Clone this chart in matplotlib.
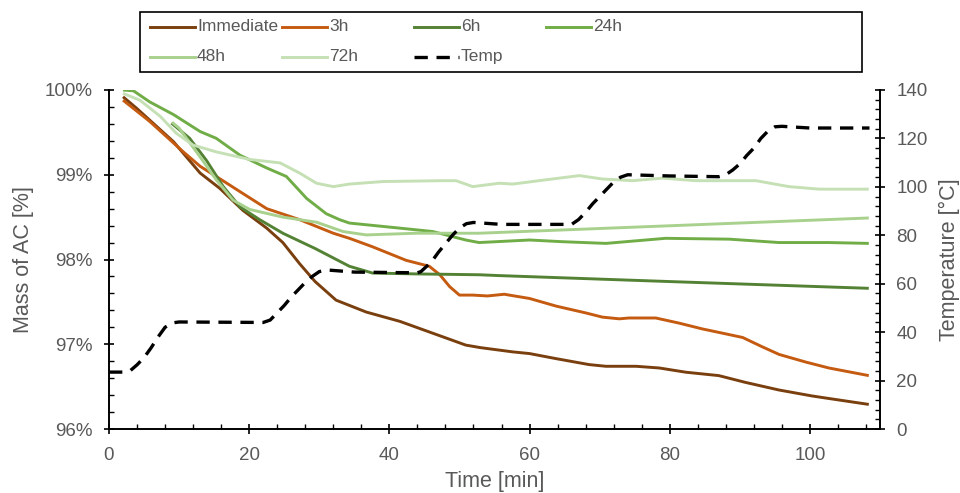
import matplotlib
matplotlib.use("Agg")
import matplotlib.pyplot as plt
from matplotlib.lines import Line2D
from matplotlib.patches import Rectangle
from matplotlib.ticker import MultipleLocator, FuncFormatter

plt.rcParams['font.family'] = ['Liberation Sans', 'DejaVu Sans']

# ---------------- data ----------------
imm_t = [2, 4, 6, 9.2, 13, 15.8, 19.1, 22.5, 24.8, 27.2, 29.4, 32.4, 36.7, 41.5, 46.2, 50.9, 53, 57.6, 60,
         63.8, 68.5, 70.9, 75.2, 78.5, 82.3, 87, 90.8, 95.6, 100.3, 102.7, 108.4]
imm_m = [99.92, 99.78, 99.63, 99.39, 99.02, 98.84, 98.58, 98.37, 98.2, 97.95, 97.74, 97.52, 97.38, 97.27,
         97.13, 96.99, 96.96, 96.91, 96.89, 96.83, 96.76, 96.74, 96.74, 96.72, 96.67, 96.63, 96.55, 96.46,
         96.39, 96.36, 96.29]

h3_t = [2, 5.8, 8.2, 10.6, 13, 15.3, 18.7, 22.5, 27.2, 32, 34.3, 37.6, 42.4, 45.7, 47.2, 48.6, 50, 51.9, 54,
        56.4, 60, 63.8, 68, 70.4, 72.8, 74.2, 78, 81.3, 84.7, 87, 90.4, 93.2, 95.6, 99.4, 102.7, 108.4]
h3_m = [99.88, 99.63, 99.45, 99.27, 99.1, 98.98, 98.8, 98.6, 98.47, 98.31, 98.25, 98.15, 97.99, 97.92, 97.82,
        97.68, 97.58, 97.58, 97.57, 97.59, 97.54, 97.45, 97.37, 97.32, 97.30, 97.31, 97.31, 97.25, 97.18,
        97.14, 97.08, 96.97, 96.88, 96.79, 96.72, 96.63]

h6_t = [8.9, 11.5, 13.9, 16.3, 18.7, 21.5, 24.8, 29.4, 34.3, 37.6, 43.8, 52.8, 55.7, 79.9, 108.4]
h6_m = [99.61, 99.43, 99.17, 98.86, 98.62, 98.47, 98.31, 98.13, 97.92, 97.84, 97.83, 97.82, 97.81, 97.74, 97.66]

h24_t = [2, 3.5, 5.8, 9.2, 13, 15.3, 18.7, 22.5, 25.3, 28.2, 31, 32.9, 34.3, 36.7, 41.5, 46.2, 50.9, 52.8,
         60, 64.7, 70.9, 79.4, 88.5, 95.6, 102.7, 108.4]
h24_m = [100.0, 99.99, 99.86, 99.71, 99.51, 99.43, 99.23, 99.08, 98.98, 98.72, 98.54, 98.47, 98.43, 98.41,
         98.37, 98.33, 98.23, 98.2, 98.23, 98.21, 98.19, 98.25, 98.24, 98.2, 98.2, 98.19]

h48_t = [9, 10, 13, 15.3, 17.7, 20.1, 24.8, 29.6, 33.4, 36.7, 43.8, 52.8, 108.4]
h48_m = [99.62, 99.55, 99.21, 98.94, 98.7, 98.59, 98.5, 98.44, 98.33, 98.29, 98.31, 98.31, 98.49]

h72_t = [2, 4.4, 7.3, 9.6, 12, 15.3, 20.1, 24.4, 27.2, 29.6, 32, 34.3, 39.1, 47.6, 49.5, 51.9, 55.7, 57.6,
         62.3, 67.1, 70.4, 74.7, 79, 83.7, 92.3, 97, 101.3, 108.4]
h72_m = [99.96, 99.88, 99.69, 99.49, 99.35, 99.27, 99.18, 99.14, 99.02, 98.9, 98.86, 98.89, 98.92, 98.93,
         98.93, 98.86, 98.9, 98.89, 98.94, 98.99, 98.95, 98.93, 98.96, 98.93, 98.93, 98.86, 98.83, 98.83]

temp_t = [0, 2, 3, 4, 5, 6, 7, 8, 9, 10, 22, 23, 24, 25, 26, 27, 28, 29, 30, 31, 35, 44, 44.5, 46, 47, 48, 49,
          50, 51, 52, 56, 66, 67, 68, 69, 70, 71, 72, 73, 74, 80, 87, 88, 89, 90, 91, 92, 93, 94, 95, 96,
          100, 108.5]
temp_v = [23.5, 23.5, 24, 26.5, 29.5, 33.5, 38, 42, 43.8, 44.2, 44, 45, 48, 51, 54.5, 57.5, 60.5, 63, 65,
          65.7, 64.8, 64.5, 65, 69, 73, 76.5, 80, 83, 84.8, 85.3, 84.5, 84.5, 86.5, 89.5, 93, 96, 99, 102,
          104, 105, 104.5, 104.2, 105, 107, 109.5, 113, 116, 120, 123, 124.8, 125, 124.3, 124.3]

series = [
    ("Immediate", imm_t, imm_m, "#7A3F0E"),
    ("3h", h3_t, h3_m, "#C55A11"),
    ("6h", h6_t, h6_m, "#548235"),
    ("24h", h24_t, h24_m, "#70AD47"),
    ("48h", h48_t, h48_m, "#A9D18E"),
    ("72h", h72_t, h72_m, "#C5E0B4"),
]

GRAY = "#595959"
W, H = 960, 493
fig = plt.figure(figsize=(W / 100, H / 100), dpi=100)

def fx(px):
    return px / W

def fy(py):
    return 1 - py / H

ax = fig.add_axes([fx(109), fy(429), fx(880) - fx(109), fy(90) - fy(429)])
ax2 = ax.twinx()

LW = 2.1
handles = {}
for name, t, m, c in series:
    ln, = ax.plot(t, m, color=c, lw=LW, solid_capstyle='butt', solid_joinstyle='round')
    handles[name] = ln
tl, = ax2.plot(temp_t, temp_v, color='black', lw=2.4, dashes=(4, 2.6))
handles["Temp"] = tl

ax.set_xlim(0, 110)
ax.set_ylim(96, 100)
ax2.set_ylim(0, 140)

ax.xaxis.set_major_locator(MultipleLocator(20))
ax.xaxis.set_minor_locator(MultipleLocator(4))
ax.yaxis.set_major_locator(MultipleLocator(1))
ax.yaxis.set_minor_locator(MultipleLocator(0.2))
ax2.yaxis.set_major_locator(MultipleLocator(20))
ax2.yaxis.set_minor_locator(MultipleLocator(4))
ax.yaxis.set_major_formatter(FuncFormatter(lambda v, p: f"{v:.0f}%"))

for a in (ax, ax2):
    for s in a.spines.values():
        s.set_linewidth(1.2)
        s.set_color('black')
    a.spines['top'].set_visible(False)
    a.tick_params(which='major', direction='inout', length=7.5, width=1.2, colors='black',
                  labelcolor=GRAY, labelsize=13.5)
    a.tick_params(which='minor', direction='in', length=3.5, width=1.0, colors='black')
ax.tick_params(axis='x', which='major', pad=9)
ax.tick_params(axis='y', which='major', pad=8)
ax2.tick_params(axis='y', which='major', pad=8)
ax.patch.set_visible(False)

ax.set_xlabel("Time [min]", color=GRAY, fontsize=15.5, labelpad=5)
ax.set_ylabel("Mass of AC [%]", color=GRAY, fontsize=15.5, labelpad=8)
ax2.set_ylabel("Temperature [°C]", color=GRAY, fontsize=15.5, labelpad=8)

# ---------------- legend (Excel-like fixed grid) ----------------
fig.add_artist(Rectangle((fx(140), fy(72)), fx(862) - fx(140), fy(12) - fy(72),
                         transform=fig.transFigure, fill=False, edgecolor='black', lw=1.2))
col_x = [150, 282, 414, 546]
row_y = [26.5, 56.5]
order = ["Immediate", "3h", "6h", "24h", "48h", "72h", "Temp"]
for i, name in enumerate(order):
    r, c = divmod(i, 4)
    x0 = col_x[c]
    y0 = row_y[r]
    h = handles[name]
    kw = dict(color=h.get_color(), lw=h.get_linewidth(), transform=fig.transFigure)
    if name == "Temp":
        kw['dashes'] = (4, 2.6)
    fig.add_artist(Line2D([fx(x0), fx(x0 + 45)], [fy(y0), fy(y0)], **kw))
    fig.text(fx(x0 + 47), fy(y0), name, color=GRAY, fontsize=12.5, va='center', ha='left')

fig.savefig("out.png", dpi=100)
